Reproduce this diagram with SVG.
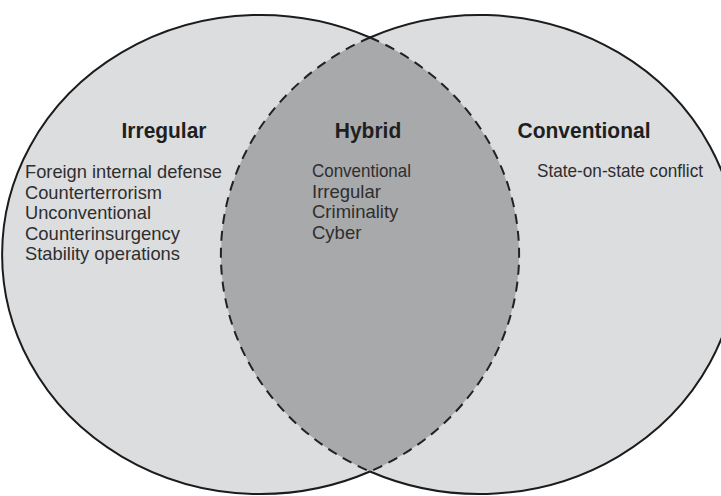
<svg xmlns="http://www.w3.org/2000/svg" width="721" height="496" viewBox="0 0 721 496">
<style>
.set{fill:#dcdddf;stroke:none}
.lens{fill:#a8a9ab;stroke:#222;stroke-width:2;stroke-dasharray:10 7}
.outline{fill:none;stroke:#1c1c1c;stroke-width:2}
.h{font-family:"Liberation Sans",Arial,sans-serif;font-weight:bold;font-size:22px;fill:#1f1f1f;text-anchor:middle}
.t{font-family:"Liberation Sans",Arial,sans-serif;font-size:18.5px;fill:#2e2e2e}
</style>
<rect width="721" height="496" fill="#ffffff"/>
<g id="irregular">
<ellipse class="set" cx="260.5" cy="254.5" rx="258.5" ry="239.5"/>
</g>
<g id="conventional">
<ellipse class="set" cx="479.5" cy="254.5" rx="258.5" ry="239.5"/>
</g>
<g id="hybrid">
<path class="lens" d="M370 37.5 A258.5 239.5 0 0 1 370 471.5 A258.5 239.5 0 0 1 370 37.5 Z"/>
</g>
<g id="outlines">
<path class="outline" d="M370 37.5 A258.5 239.5 0 1 0 370 471.5"/>
<path class="outline" d="M370 37.5 A258.5 239.5 0 1 1 370 471.5"/>
</g>
<g id="irregular-text">
<text class="h" x="164" y="138" textLength="85" lengthAdjust="spacingAndGlyphs">Irregular</text>
<text class="t" x="25" y="178" textLength="197" lengthAdjust="spacingAndGlyphs">Foreign internal defense</text>
<text class="t" x="25" y="198.5" textLength="137" lengthAdjust="spacingAndGlyphs">Counterterrorism</text>
<text class="t" x="25" y="219" textLength="126" lengthAdjust="spacingAndGlyphs">Unconventional</text>
<text class="t" x="25" y="239.5" textLength="155" lengthAdjust="spacingAndGlyphs">Counterinsurgency</text>
<text class="t" x="25" y="260" textLength="155" lengthAdjust="spacingAndGlyphs">Stability operations</text>
</g>
<g id="hybrid-text">
<text class="h" x="368" y="138" textLength="66.5" lengthAdjust="spacingAndGlyphs">Hybrid</text>
<text class="t" x="312" y="177" textLength="99" lengthAdjust="spacingAndGlyphs">Conventional</text>
<text class="t" x="312" y="197.5">Irregular</text>
<text class="t" x="312" y="218">Criminality</text>
<text class="t" x="312" y="238.5">Cyber</text>
</g>
<g id="conventional-text">
<text class="h" x="584" y="138" textLength="133" lengthAdjust="spacingAndGlyphs">Conventional</text>
<text class="t" x="537" y="177" textLength="166" lengthAdjust="spacingAndGlyphs">State-on-state conflict</text>
</g>
</svg>
